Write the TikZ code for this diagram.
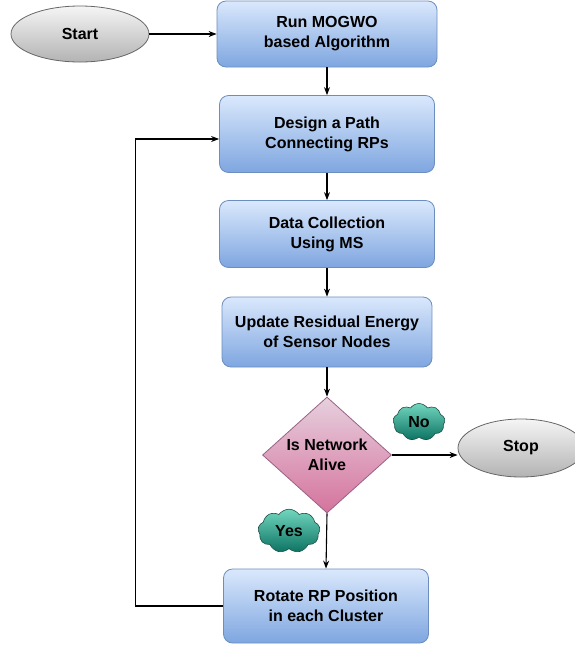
\documentclass[tikz,border=0pt]{standalone}
\usepackage{fontspec}
\setmainfont{Liberation Sans}
\usetikzlibrary{shapes,arrows.meta,positioning}
\definecolor{boxtop}{HTML}{DAE8FC}
\definecolor{boxbot}{HTML}{7EA6E0}
\definecolor{boxline}{HTML}{6C8EBF}
\definecolor{dectop}{HTML}{E6D0DE}
\definecolor{decbot}{HTML}{D5739D}
\definecolor{decline}{HTML}{996185}
\definecolor{termtop}{HTML}{F5F5F5}
\definecolor{termbot}{HTML}{B3B3B3}
\definecolor{termline}{HTML}{666666}
\definecolor{cloudtop}{HTML}{72D6BE}
\definecolor{cloudbot}{HTML}{0C7363}
\definecolor{cloudline}{HTML}{1E4F46}
\newcommand\flowfont{\fontsize{16}{20}\selectfont\bfseries}
\tikzset{
  process/.style={draw=boxline, line width=0.8pt, rounded corners=9pt, top color=boxtop, bottom color=boxbot, align=center, font=\flowfont, inner sep=0pt},
  terminal/.style={ellipse, draw=termline, line width=0.8pt, top color=termtop, bottom color=termbot, font=\flowfont, inner sep=0pt},
  decision/.style={diamond, draw=decline, line width=0.8pt, top color=dectop, bottom color=decbot, align=center, font=\flowfont, inner sep=0pt},
  answer/.style={cloud, cloud puffs=9, cloud puff arc=110, draw=cloudline, line width=0.6pt, top color=cloudtop, bottom color=cloudbot, font=\flowfont, inner sep=0pt},
  flow/.style={-{Stealth[length=8pt,width=6pt]}, line width=1.1pt, black}
}

\begin{document}
\begin{tikzpicture}[x=1pt, y=-1pt]
\useasboundingbox (0,0) rectangle (575,649);
\node[terminal, minimum width=138pt, minimum height=56pt] (start) at (80,34) {Start};
\node[process, minimum width=220pt, minimum height=66pt] (run) at (327,34) {Run MOGWO\\based Algorithm};
\node[process, minimum width=215pt, minimum height=77pt] (design) at (327,134) {Design a Path\\Connecting RPs};
\node[process, minimum width=215pt, minimum height=67pt] (collect) at (327,234) {Data Collection\\Using MS};
\node[process, minimum width=210pt, minimum height=70pt] (update) at (327,332) {Update Residual Energy\\of Sensor Nodes};
\node[decision, minimum width=129pt, minimum height=116pt] (alive) at (327,455) {Is Network\\Alive};
\node[terminal, minimum width=126pt, minimum height=58pt] (stop) at (521,448) {Stop};
\node[answer, minimum width=52pt, minimum height=37pt] (no) at (419,422) {No};
\node[answer, minimum width=62pt, minimum height=36pt] (yes) at (289,531) {Yes};
\node[process, minimum width=205pt, minimum height=74pt] (rotate) at (326,606) {Rotate RP Position\\in each Cluster};

\draw[flow] (start.east) -- (run.west);
\draw[flow] (run.south) -- (design.north);
\draw[flow] (design.south) -- (collect.north);
\draw[flow] (collect.south) -- (update.north);
\draw[flow] (update.south) -- (alive.north);
\draw[flow] (alive.east) -- (alive.east -| stop.west);
\draw[flow] (alive.south) -- (rotate.north);
\draw[flow] (rotate.west) -- ++(-88,0) |- ([yshift=-5pt]design.west);
\end{tikzpicture}
\end{document}
